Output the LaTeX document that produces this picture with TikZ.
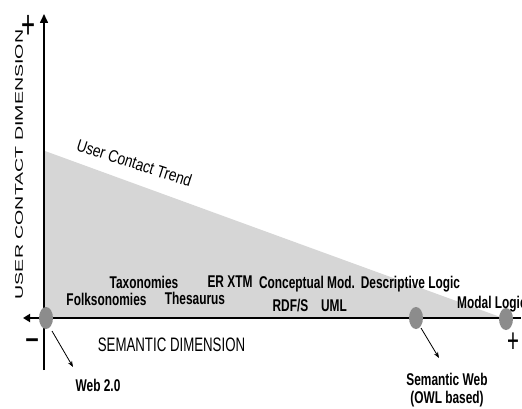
\documentclass[tikz,border=0pt]{standalone}
\usepackage{fontspec}
\setmainfont{Liberation Sans}
\newfontfamily\nb[FakeStretch=0.70]{Liberation Sans}
\newfontfamily\nr[FakeStretch=0.68]{Liberation Sans}
\newfontfamily\nt[FakeStretch=0.81]{Liberation Sans}
\newfontfamily\nv[FakeStretch=1.78]{Liberation Sans}
\newfontfamily\np[FakeStretch=0.6]{Liberation Sans}
\usetikzlibrary{arrows.meta,shapes.geometric}
\begin{document}
\begin{tikzpicture}[x=1pt,y=-1pt,
  lab/.style={font=\nb\bfseries\fontsize{17}{17}\selectfont, inner sep=0, anchor=base},
  sign/.style={font=\np\fontsize{40}{40}\selectfont, inner sep=0, anchor=base},
  dot/.style={ellipse, fill=black!45, minimum width=14pt, minimum height=22pt, inner sep=0},
  ptr/.style={line width=0.8pt, -{Stealth[length=6pt,width=4.5pt]}},
  trifill/.style={fill=black!16}]
\useasboundingbox (0,0) rectangle (522,409);
% trend triangle
\fill[trifill] (45,151) -- (45,318) -- (503,318) -- cycle;
% axes
\coordinate (vtop) at (44,14);
\coordinate (vbot) at (44,370);
\coordinate (hl) at (23,318);
\coordinate (hmid) at (377,318);
\coordinate (hr) at (521,318);
\draw[line width=1.6pt, -{Triangle[length=9pt,width=8pt]}] (vbot) -- (vtop);
\draw[line width=2.6pt, -{Triangle[length=7pt,width=8pt]}] (hmid) -- (hl);
\draw[line width=1.6pt] (hmid) -- (hr);
% points
\node[dot] (web) at (46,318) {};
\node[dot] (sw) at (416,318) {};
\node[dot] (ml) at (506,319) {};
% pointer labels
\node[lab] (webl) at (98,391) {Web 2.0};
\node[lab] (swl) at (447,385) {Semantic Web};
\node[lab] (owl) at (447,403) {(OWL based)};
\coordinate (webp) at (73,367);
\coordinate (swp) at (439,358);
\draw[ptr] ([shift={(6,13)}]web.center) -- (webp);
\draw[ptr] ([shift={(5,10)}]sw.center) -- (swp);
% labels in the triangle
\node[lab] (tax) at (144,288) {Taxonomies};
\node[lab] (erx) at (230,287) {ER XTM};
\node[lab] (folk) at (106.5,305) {Folksonomies};
\node[lab] (thes) at (195,304.5) {Thesaurus};
\node[lab] (conc) at (307,288) {Conceptual Mod.};
\node[lab] (desc) at (410.5,288) {Descriptive Logic};
\node[lab] (rdf) at (290.5,311.5) {RDF/S};
\node[lab] (uml) at (334,311.5) {UML};
\node[lab, anchor=base west] (modal) at (457,308) {Modal Logic};
% axis titles
\node[font=\nr\fontsize{19.5}{19.5}\selectfont, inner sep=0, anchor=base] (semdim) at (171.5,351.5) {SEMANTIC DIMENSION};
\node[font=\nv\fontsize{11}{11}\selectfont, inner sep=0, anchor=base, rotate=90] (ucdim) at (23,164.5) {USER CONTACT DIMENSION};
\node[font=\nt\fontsize{17}{17}\selectfont, inner sep=0, anchor=base, rotate=-18] (trend) at (132.5,168.5) {User Contact Trend};
% signs
\node[sign] (plustop) at (29,39) {+};
\node[sign] (minus) at (33,353) {−};
\node[sign, font=\np\fontsize{34}{34}\selectfont] (plusright) at (513,352) {+};
\end{tikzpicture}
\end{document}
